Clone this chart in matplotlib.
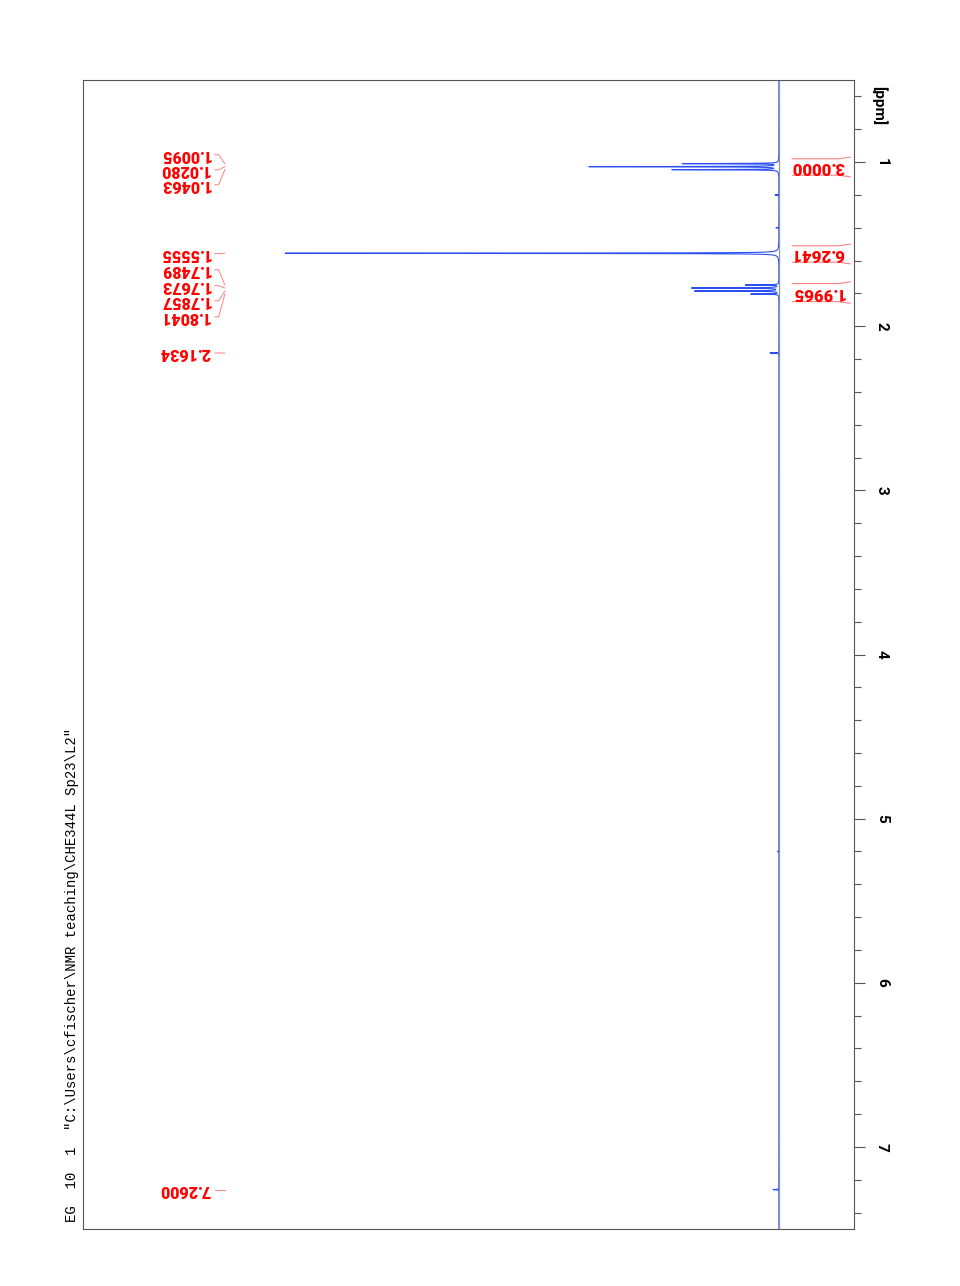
import numpy as np
import matplotlib.pyplot as plt
import matplotlib.transforms as mtransforms

# Peak list (ppm, relative height)
peak_ppm = [1.0095, 1.0280, 1.0463, 1.2, 1.4, 1.5555, 1.7489, 1.7673, 1.7857, 1.8041, 2.1634, 5.2, 7.2600]
peak_height = [19.4, 38.3, 21.5, 0.8, 0.6, 100.0, 6.7, 17.6, 17.0, 5.6, 1.8, 0.3, 1.2]

# Labelled peaks
label_ppm = [1.0095, 1.0280, 1.0463, 1.5555, 1.7489, 1.7673, 1.7857, 1.8041, 2.1634, 7.2600]
label_text = ["1.0095", "1.0280", "1.0463", "1.5555", "1.7489", "1.7673", "1.7857", "1.8041", "2.1634", "7.2600"]
label_pos = [0.955, 1.047, 1.138, 1.558, 1.656, 1.753, 1.845, 1.943, 2.163, 7.260]

# Integral regions
int_start = [0.98, 1.51, 1.74]
int_end = [1.08, 1.61, 1.85]
int_value = ["3.0000", "6.2641", "1.9965"]

ppm = np.linspace(0.5, 7.5, 80000)
hw = 0.0012
spec = np.zeros_like(ppm)
for p, h in zip(peak_ppm, peak_height):
    spec += h / (1 + ((ppm - p) / hw) ** 2)

fig = plt.figure(figsize=(9.6, 12.86), dpi=100)
ax = fig.add_axes([83 / 960, 57 / 1286, 771 / 960, 1149 / 1286])
ax.plot(spec, ppm, color="#2a4ff0", lw=0.8)
ax.axvline(0, color="#8a93b8", lw=0.9)
ax.set_xlim(140.9, -15.2)
ax.set_ylim(7.5, 0.5)

for s in ax.spines.values():
    s.set_color("#555555")
    s.set_linewidth(0.8)
ax.set_xticks([])
ax.yaxis.tick_right()
ax.set_yticks(range(1, 8))
ax.set_yticks(np.arange(0.6, 7.5, 0.2), minor=True)
ax.tick_params(axis="y", which="major", length=8, width=0.8, color="#555555", pad=7)
ax.tick_params(axis="y", which="minor", length=5, width=0.8, color="#555555")
for t in ax.get_yticklabels():
    t.set_rotation(-90)
    t.set_fontsize(11)
    t.set_fontweight("bold")
    t.set_family("Roboto")
    t.set_va("center")
ax.text(1.032, 0.978, "[ppm]", transform=ax.transAxes, rotation=-90, fontsize=11,
        fontweight="bold", family="Roboto", ha="center", va="center", clip_on=False)

tr = mtransforms.blended_transform_factory(ax.transAxes, ax.transData)
for p, t, lp in zip(label_ppm, label_text, label_pos):
    ax.text(0.132, lp, t, transform=tr, rotation=180, ha="center", va="center",
            fontsize=11.5, fontweight="heavy", family="Roboto", color="red")
    ax.plot([0.171, 0.176, 0.184], [lp, lp, p], transform=tr, color="#ff8080", lw=0.7)

for a, b, v in zip(int_start, int_end, int_value):
    for y in (a, b):
        ax.plot([0.920, 0.98, 0.995], [y, y, y - 0.01 if y == a else y + 0.01],
                transform=tr, color="#ff8080", lw=0.8)
    ax.text(0.953, (a + b) / 2, v, transform=tr, rotation=180, ha="center", va="center",
            fontsize=12, fontweight="heavy", family="Roboto", color="red")

fig.text(72 / 960, 64 / 1286, 'EG  10  1  "C:\\Users\\cfischer\\NMR teaching\\CHE344L Sp23\\L2"',
         rotation=90, family="Liberation Mono", fontsize=10, ha="center", va="bottom")

fig.savefig("out.png", dpi=100)
